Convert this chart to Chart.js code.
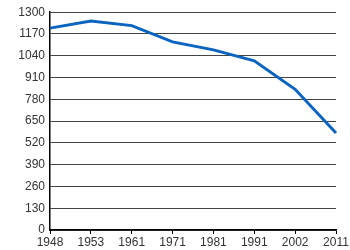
<!DOCTYPE html>
<html>
<head>
<meta charset="utf-8">
<script src="https://cdn.jsdelivr.net/npm/chart.js@4"></script>
<style>
  html, body { margin: 0; padding: 0; background: #fff; }
  #wrap { width: 350px; height: 250px; }
</style>
</head>
<body>
<div id="wrap"><canvas id="popChart"></canvas></div>
<script>
/*--Data--*/
var years = ["1948", "1953", "1961", "1971", "1981", "1991", "2002", "2011"];
var population = [1205, 1247, 1220, 1123, 1075, 1010, 840, 579];
var yTicks = [0, 130, 260, 390, 520, 650, 780, 910, 1040, 1170, 1300];
/*--------*/

Chart.defaults.font.family = "'Liberation Sans', Arial, sans-serif";
Chart.defaults.font.size = 11;
Chart.defaults.color = '#333';

var popChart = new Chart('popChart', {
  type: 'line',
  data: {
    labels: years,
    datasets: [{
      data: population,
      borderColor: '#0a64c0',
      borderWidth: 3,
      pointRadius: 0,
      tension: 0,
      fill: false
    }]
  },
  options: {
    responsive: true,
    maintainAspectRatio: false,
    animation: false,
    layout: { padding: { top: 10, right: 14, left: 0, bottom: 0 } },
    plugins: { legend: { display: false }, tooltip: { enabled: false } },
    scales: {
      x: {
        offset: false,
        grid: { drawOnChartArea: false, drawTicks: true, tickLength: 4, color: '#000' },
        border: { color: '#000', width: 1.5 },
        ticks: { padding: 1, maxRotation: 0, autoSkip: false, font: { size: 12 } },
        afterFit: function(scale) { scale.height = 20; }
      },
      y: {
        min: 0,
        max: 1300,
        afterBuildTicks: function(scale) {
          scale.ticks = yTicks.map(function(v) { return { value: v }; });
        },
        grid: { color: '#444', drawTicks: false },
        border: { color: '#000', width: 1.5 },
        ticks: {
          padding: 5,
          font: { size: 12 },
          callback: function(v) { return String(v); }
        },
        afterFit: function(scale) { scale.width = 50; }
      }
    }
  }
});
</script>
</body>
</html>
